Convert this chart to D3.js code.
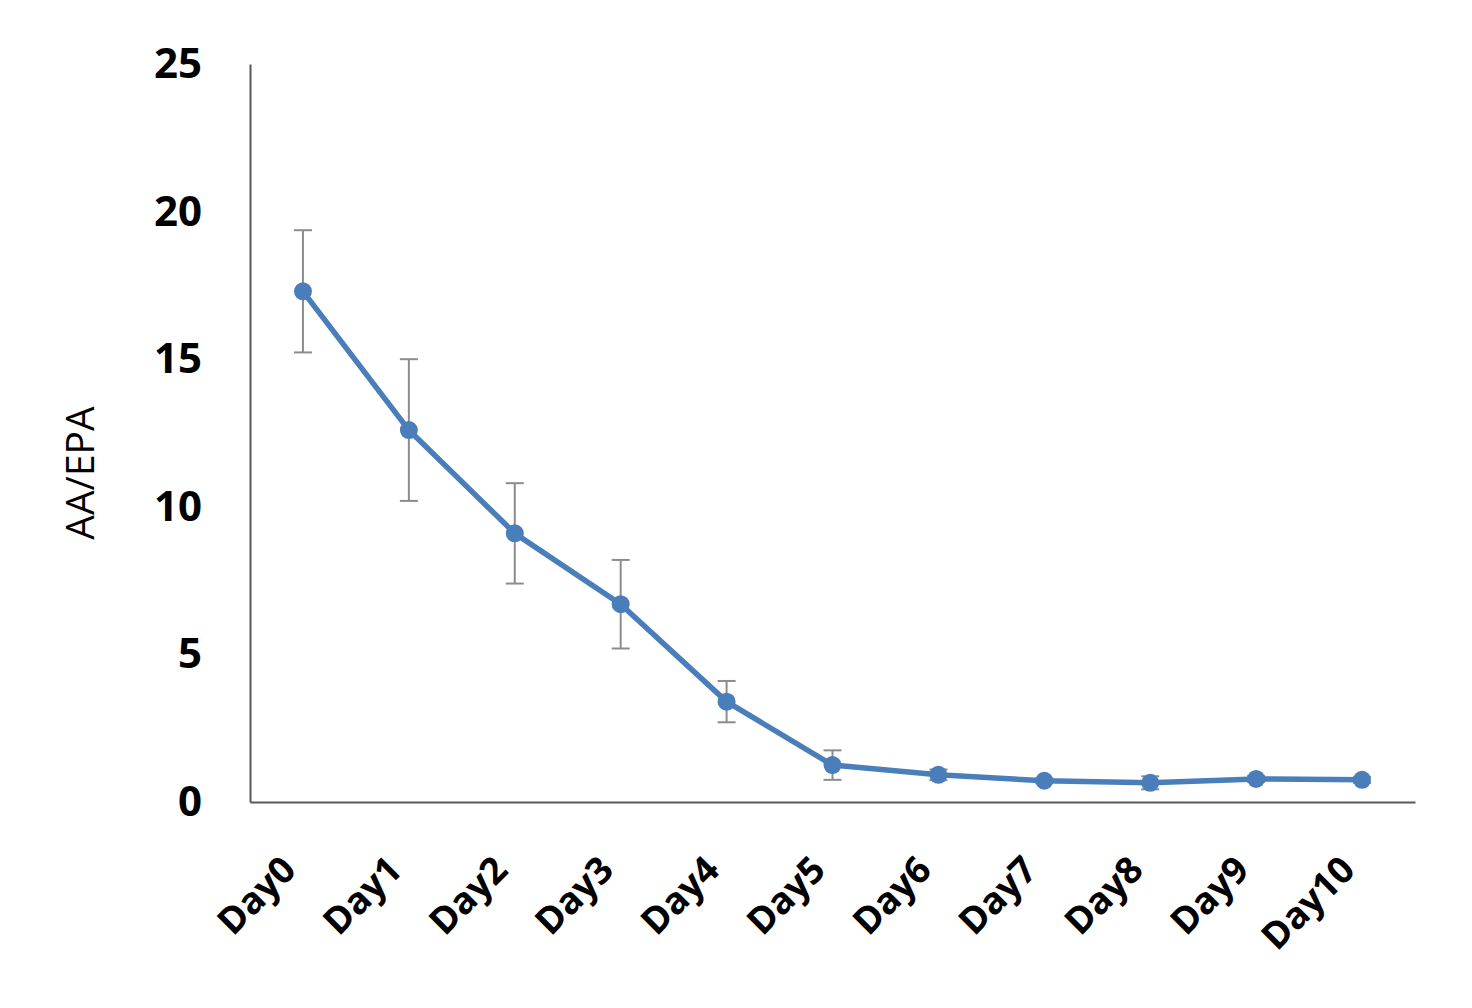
<!DOCTYPE html>
<html>
<head>
<meta charset="utf-8">
<script src="https://cdn.jsdelivr.net/npm/d3@7"></script>
<style>
  body { margin: 0; background: #fff; }
</style>
</head>
<body>
<script>
var days = ["Day0", "Day1", "Day2", "Day3", "Day4", "Day5", "Day6", "Day7", "Day8", "Day9", "Day10"];
var ratio = [17.3, 12.6, 9.1, 6.7, 3.4, 1.25, 0.92, 0.72, 0.65, 0.78, 0.75];
var errs = [2.07, 2.4, 1.7, 1.5, 0.7, 0.5, 0.18, 0.08, 0.22, 0.1, 0.1];
var yTicks = [0, 5, 10, 15, 20, 25];

var x = d3.scaleBand()
    .domain(days)
    .range([250, 1415]);

var y = d3.scaleLinear()
    .domain([0, 25])
    .range([802, 64]);

function cx(d) { return x(d) + x.bandwidth() / 2; }

var svg = d3.select("body").append("svg")
    .attr("width", 1472)
    .attr("height", 1008);

// y axis
var yAxis = d3.axisLeft(y).tickValues(yTicks).tickSize(0).tickPadding(48);
var gy = svg.append("g")
    .attr("transform", "translate(250,0)")
    .call(yAxis);
gy.select(".domain").attr("stroke", "#595959").attr("stroke-width", 2);
gy.selectAll("text")
    .attr("font-family", "Open Sans")
    .attr("font-weight", 700)
    .attr("font-size", 42)
    .attr("fill", "#000");

// x axis
var xAxis = d3.axisBottom(x).tickSize(0).tickPadding(0);
var gx = svg.append("g")
    .attr("transform", "translate(0,802)")
    .call(xAxis);
gx.select(".domain").attr("stroke", "#595959").attr("stroke-width", 2);
gx.selectAll("text")
    .attr("font-family", "Open Sans")
    .attr("font-weight", 700)
    .attr("font-size", 37)
    .attr("fill", "#000")
    .attr("text-anchor", "end")
    .attr("dy", null)
    .attr("y", 0)
    .attr("transform", "translate(-5,70) rotate(-45)");

// y label
svg.append("text")
    .attr("transform", "translate(94,473) rotate(-90)")
    .attr("text-anchor", "middle")
    .attr("font-family", "Open Sans")
    .attr("font-size", 39)
    .attr("fill", "#000")
    .text("AA/EPA");

// error bars
var eb = svg.append("g").attr("stroke", "#8c8c8c").attr("stroke-width", 2);
eb.selectAll("line.v")
    .data(days)
    .enter().append("line")
    .attr("class", "v")
    .attr("x1", cx).attr("x2", cx)
    .attr("y1", function(d, i){ return y(ratio[i] + errs[i]); })
    .attr("y2", function(d, i){ return y(ratio[i] - errs[i]); });
eb.selectAll("line.top")
    .data(days)
    .enter().append("line")
    .attr("class", "top")
    .attr("x1", function(d){ return cx(d) - 9; })
    .attr("x2", function(d){ return cx(d) + 9; })
    .attr("y1", function(d, i){ return y(ratio[i] + errs[i]); })
    .attr("y2", function(d, i){ return y(ratio[i] + errs[i]); });
eb.selectAll("line.bot")
    .data(days)
    .enter().append("line")
    .attr("class", "bot")
    .attr("x1", function(d){ return cx(d) - 9; })
    .attr("x2", function(d){ return cx(d) + 9; })
    .attr("y1", function(d, i){ return y(ratio[i] - errs[i]); })
    .attr("y2", function(d, i){ return y(ratio[i] - errs[i]); });

// line
var line = d3.line()
    .x(function(d, i){ return cx(days[i]); })
    .y(function(d){ return y(d); });

svg.append("path")
    .datum(ratio)
    .attr("fill", "none")
    .attr("stroke", "#4a7ebb")
    .attr("stroke-width", 5.5)
    .attr("stroke-linejoin", "round")
    .attr("d", line);

svg.selectAll("circle")
    .data(ratio)
    .enter().append("circle")
    .attr("cx", function(d, i){ return cx(days[i]); })
    .attr("cy", function(d){ return y(d); })
    .attr("r", 9)
    .attr("fill", "#4a7ebb");
</script>
</body>
</html>
